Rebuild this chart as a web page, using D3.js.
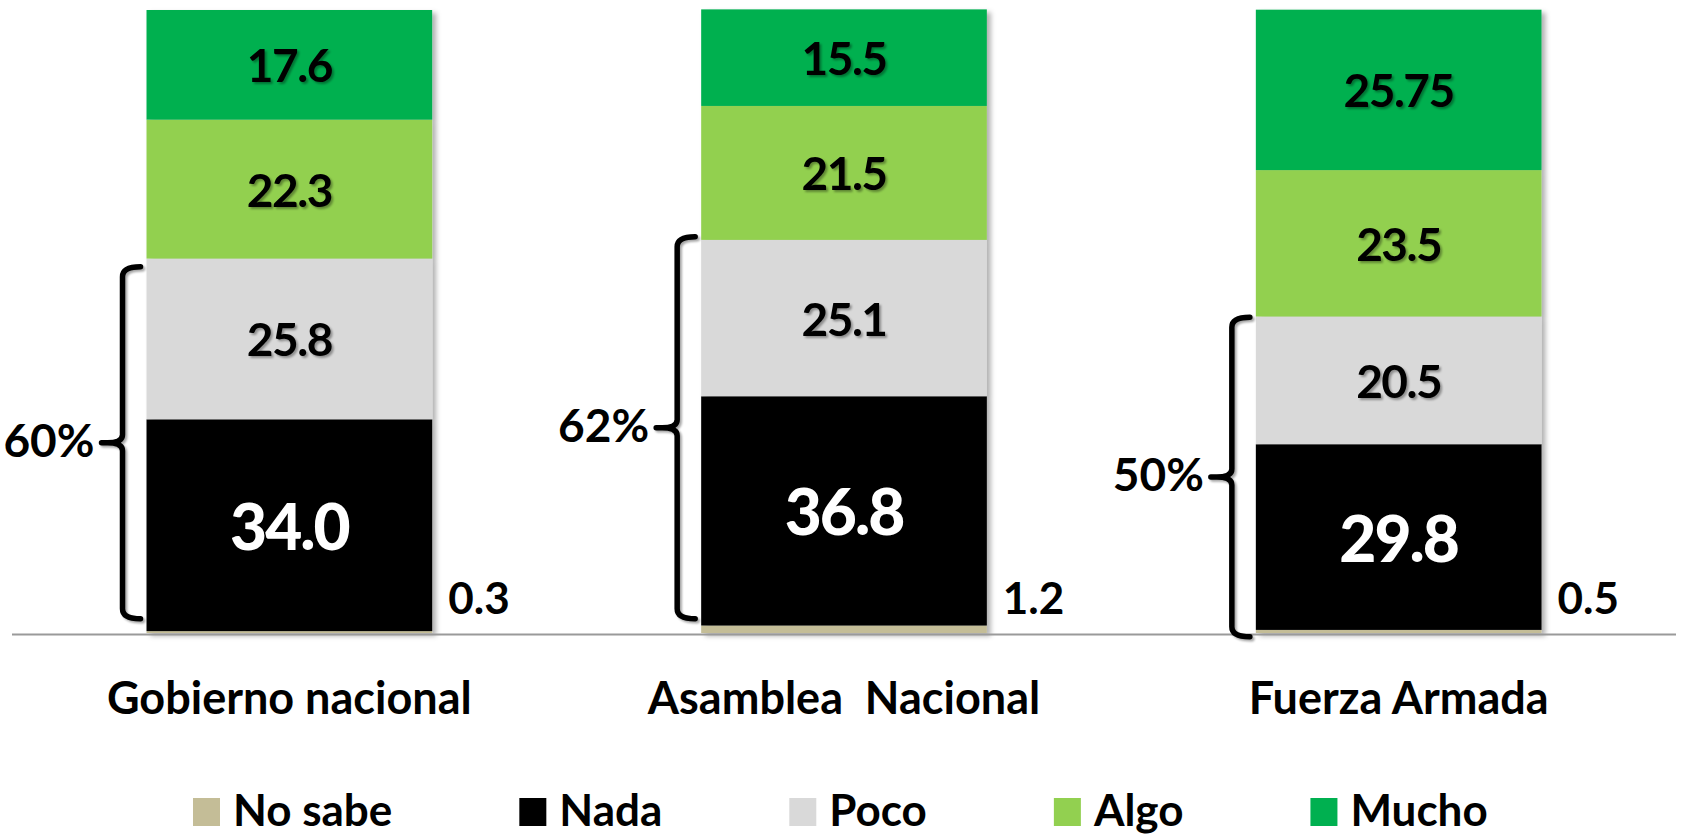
<!DOCTYPE html>
<html>
<head>
<meta charset="utf-8">
<script src="https://cdn.jsdelivr.net/npm/d3@7"></script>
<style>
  body { margin: 0; background: #fff; }
  svg { display: block; font-family: Lato, 'Open Sans', sans-serif; }
</style>
</head>
<body>
<script>
var categories = ['Gobierno nacional', 'Asamblea  Nacional', 'Fuerza Armada'];
var seriesNames = ['No sabe', 'Nada', 'Poco', 'Algo', 'Mucho'];
var colors = ['#C4BD97', '#000000', '#D9D9D9', '#92D050', '#00B050'];

// values per series (bottom to top of each stack)
var noSabe = [0.3, 1.2, 0.5];
var nada = [34.0, 36.8, 29.8];
var poco = [25.8, 25.1, 20.5];
var algo = [22.3, 21.5, 23.5];
var mucho = [17.6, 15.5, 25.75];

// bracket over Nada + Poco
var groupLabels = ['60%', '62%', '50%'];
var bracketLow = [2.3, 2.3, -0.6];
var bracketHigh = [58.8, 63.6, 50.7];

buildPlot();

function buildPlot() {
  var w = 1683;
  var h = 835;

  var svg = d3.select('body')
    .append('svg')
    .attr('width', w)
    .attr('height', h);

  /* ===== shadows ===== */

  var defs = svg.append('defs');
  defs.append('filter')
    .attr('id', 'barShadow')
    .attr('x', '-10%').attr('y', '-10%').attr('width', '130%').attr('height', '130%')
    .append('feDropShadow')
    .attr('dx', 4).attr('dy', 3).attr('stdDeviation', 2.5)
    .attr('flood-color', '#000').attr('flood-opacity', 0.3);
  defs.append('filter')
    .attr('id', 'textShadow')
    .attr('x', '-20%').attr('y', '-20%').attr('width', '150%').attr('height', '160%')
    .append('feDropShadow')
    .attr('dx', 2).attr('dy', 2).attr('stdDeviation', 1.2)
    .attr('flood-color', '#000').attr('flood-opacity', 0.35);

  /* ===== scales ===== */

  var xScale = d3.scaleBand()
    .domain(categories)
    .range([12, 1676])
    .paddingInner(0.485)
    .paddingOuter(0.2425);

  var yScale = d3.scaleLinear()
    .domain([0, 100])
    .range([633, 10]);

  var rows = categories.map(function(c, i) {
    return {
      cat: c,
      'No sabe': noSabe[i],
      'Nada': nada[i],
      'Poco': poco[i],
      'Algo': algo[i],
      'Mucho': mucho[i]
    };
  });

  var stacked = d3.stack().keys(seriesNames)(rows);

  var fmt = function(v) {
    return Math.round(v * 100) % 10 !== 0 ? v.toFixed(2) : v.toFixed(1);
  };

  /* ===== bars ===== */

  var barGroup = svg.append('g').attr('filter', 'url(#barShadow)');

  stacked.forEach(function(layer, si) {
    barGroup.selectAll('.seg' + si)
      .data(layer)
      .enter()
      .append('rect')
      .attr('x', function(d) { return xScale(d.data.cat); })
      .attr('y', function(d) { return yScale(d[1]); })
      .attr('width', xScale.bandwidth())
      .attr('height', function(d) { return yScale(d[0]) - yScale(d[1]); })
      .attr('fill', colors[si]);
  });

  /* ===== axis line ===== */

  svg.append('line')
    .attr('x1', 12).attr('x2', 1676)
    .attr('y1', yScale(0) + 1.5).attr('y2', yScale(0) + 1.5)
    .attr('stroke', '#9a9a9a')
    .attr('stroke-width', 2);

  /* ===== segment labels ===== */

  stacked.forEach(function(layer, si) {
    if (si === 0) return;
    var isNada = si === 1;
    svg.selectAll('.lab' + si)
      .data(layer)
      .enter()
      .append('text')
      .attr('x', function(d) { return xScale(d.data.cat) + xScale.bandwidth() / 2; })
      .attr('y', function(d) { return (yScale(d[0]) + yScale(d[1])) / 2; })
      .attr('text-anchor', 'middle')
      .attr('dominant-baseline', 'central')
      .attr('font-size', isNada ? 64 : 46)
      .attr('font-weight', isNada ? 900 : 700)
      .attr('letter-spacing', isNada ? -2 : -1.5)
      .attr('fill', isNada ? '#fff' : '#000')
      .attr('filter', isNada ? null : 'url(#textShadow)')
      .text(function(d) { return fmt(d[1] - d[0]); });
  });

  // "No sabe" values beside the bars
  svg.selectAll('.nsLabel')
    .data(stacked[0])
    .enter()
    .append('text')
    .attr('x', function(d) { return xScale(d.data.cat) + xScale.bandwidth() + 16; })
    .attr('y', yScale(0) - 19)
    .attr('font-size', 44)
    .attr('font-weight', 700)
    .attr('fill', '#000')
    .text(function(d) { return fmt(d[1] - d[0]); });

  /* ===== category labels ===== */

  svg.selectAll('.catLabel')
    .data(categories)
    .enter()
    .append('text')
    .attr('x', function(d) { return xScale(d) + xScale.bandwidth() / 2; })
    .attr('y', 714)
    .attr('text-anchor', 'middle')
    .attr('font-size', 45)
    .attr('font-weight', 700)
    .style('white-space', 'pre')
    .text(function(d) { return d; });

  /* ===== brackets ===== */

  var brackets = svg.append('g').attr('filter', 'url(#textShadow)');

  categories.forEach(function(c, i) {
    var left = xScale(c);
    var xv = left - 24;
    var hook = left - 6;
    var tick = left - 45;
    var top = yScale(bracketHigh[i]);
    var bot = yScale(bracketLow[i]);
    var mid = (top + bot) / 2;

    var p = d3.path();
    p.moveTo(hook, top);
    p.quadraticCurveTo(xv, top, xv, top + 10);
    p.lineTo(xv, mid - 8);
    p.quadraticCurveTo(xv, mid, tick + 6, mid);
    p.lineTo(tick, mid);
    p.moveTo(tick + 6, mid);
    p.quadraticCurveTo(xv, mid, xv, mid + 8);
    p.lineTo(xv, bot - 10);
    p.quadraticCurveTo(xv, bot, hook, bot);

    brackets.append('path')
      .attr('d', p.toString())
      .attr('fill', 'none')
      .attr('stroke', '#000')
      .attr('stroke-width', 5.5)
      .attr('stroke-linecap', 'round');

    svg.append('text')
      .attr('x', tick - 7)
      .attr('y', mid + 14)
      .attr('text-anchor', 'end')
      .attr('font-size', 46)
      .attr('font-weight', 700)
      .text(groupLabels[i]);
  });

  /* ===== legend ===== */

  var legend = svg.append('g');
  var lx = 193;
  seriesNames.forEach(function(name, i) {
    legend.append('rect')
      .attr('x', lx)
      .attr('y', 798)
      .attr('width', 27)
      .attr('height', 28)
      .attr('fill', colors[i]);
    var t = legend.append('text')
      .attr('x', lx + 40)
      .attr('y', 826)
      .attr('font-size', 44)
      .attr('font-weight', 700)
      .attr('fill', '#000')
      .text(name);
    lx = lx + 40 + t.node().getComputedTextLength() + 127;
  });
}
</script>
</body>
</html>
